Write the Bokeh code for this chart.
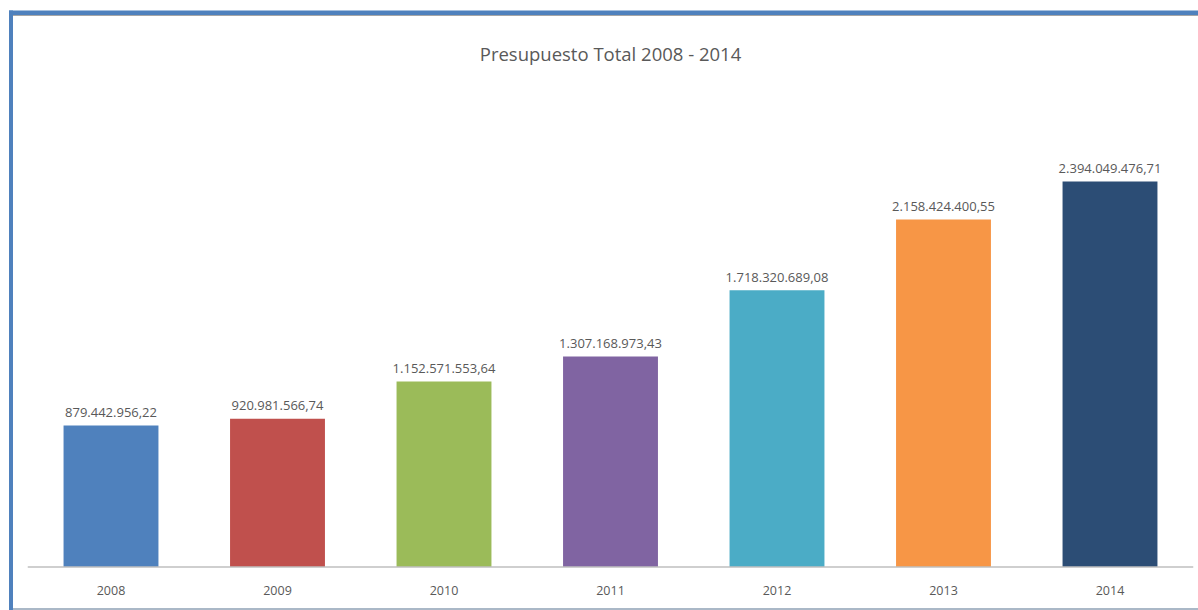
from bokeh.plotting import figure
from bokeh.models import Range1d, ColumnDataSource
from bokeh.embed import file_html
from bokeh.resources import INLINE
from bokeh.core.properties import value

# ---- data ----
years = ["2008", "2009", "2010", "2011", "2012", "2013", "2014"]
budget = [879442956.22, 920981566.74, 1152571553.64, 1307168973.43,
          1718320689.08, 2158424400.55, 2394049476.71]
colors = ["#4F81BD", "#C0504D", "#9BBB59", "#8064A2", "#4BACC6", "#F79646", "#2C4D75"]
title_text = "Presupuesto Total 2008 - 2014"


def es_fmt(v):
    s = f"{v:,.2f}"
    return s.replace(",", "X").replace(".", ",").replace("X", ".")


labels = [es_fmt(v) for v in budget]
xs = list(range(len(years)))

src = ColumnDataSource(dict(x=xs, top=budget, color=colors, label=labels,
                            year=years, zero=[0] * len(years)))

# ---- layout constants (pixels on the page) ----
W, H = 1198, 610
X0PIX, XSTEP = 110.5, 166.5      # centre of first category, category spacing
Y0PIX, YSCALE = 566.5, 0.16102e-6  # baseline pixel row, pixels per unit


def px_to_x(px):
    return (px - X0PIX) / XSTEP


def py_to_y(py):
    return (Y0PIX - py) / YSCALE


p = figure(width=W, height=H, output_backend="svg", toolbar_location=None,
           x_axis_type=None, y_axis_type=None, min_border=0,
           x_range=Range1d(px_to_x(0), px_to_x(W)),
           y_range=Range1d(py_to_y(H), py_to_y(0)))
p.outline_line_color = None
p.background_fill_color = "white"
p.border_fill_color = "white"

FONT = value("Open Sans")
TXT = "#595959"

p.vbar(x="x", top="top", bottom=0, width=0.57, fill_color="color",
       line_color=None, source=src)

# axis baseline
n = len(years)
p.segment(x0=[-0.5], x1=[n - 0.5], y0=[0], y1=[0], line_color="#BFBFBF",
          line_width=1.5)

# value labels
p.text(x="x", y="top", text="label", source=src, text_align="center",
       text_baseline="alphabetic", y_offset=-13, text_font=FONT,
       text_font_size="13px", text_color=TXT)

# category labels
p.text(x="x", y="zero", text="year", source=src, text_align="center",
       text_baseline="middle", y_offset=23.5, text_font=FONT,
       text_font_size="12.5px", text_color=TXT)

# title
p.text(x=[(n - 1) / 2], y=[py_to_y(52.5)], text=[title_text], text_align="center",
       text_baseline="alphabetic", text_font=FONT, text_font_size="18.5px",
       text_color=TXT)

# chart border (decoration)
p.segment(x0=[px_to_x(12.5)], x1=[px_to_x(W)], y0=[py_to_y(15)],
          y1=[py_to_y(15)], line_color="#A6A6A6", line_width=1)
p.segment(x0=[px_to_x(12.5)], x1=[px_to_x(W)], y0=[py_to_y(608.5)],
          y1=[py_to_y(608.5)], line_color="#8EA0B5", line_width=1.5)
p.segment(x0=[px_to_x(10.5)], x1=[px_to_x(10.5)], y0=[py_to_y(10)],
          y1=[py_to_y(610)], line_color="#4F81BD", line_width=4)
p.segment(x0=[px_to_x(8.5)], x1=[px_to_x(W)], y0=[py_to_y(12.2)],
          y1=[py_to_y(12.2)], line_color="#4F81BD", line_width=4.5)

open("out.html", "w").write(file_html(p, INLINE))
